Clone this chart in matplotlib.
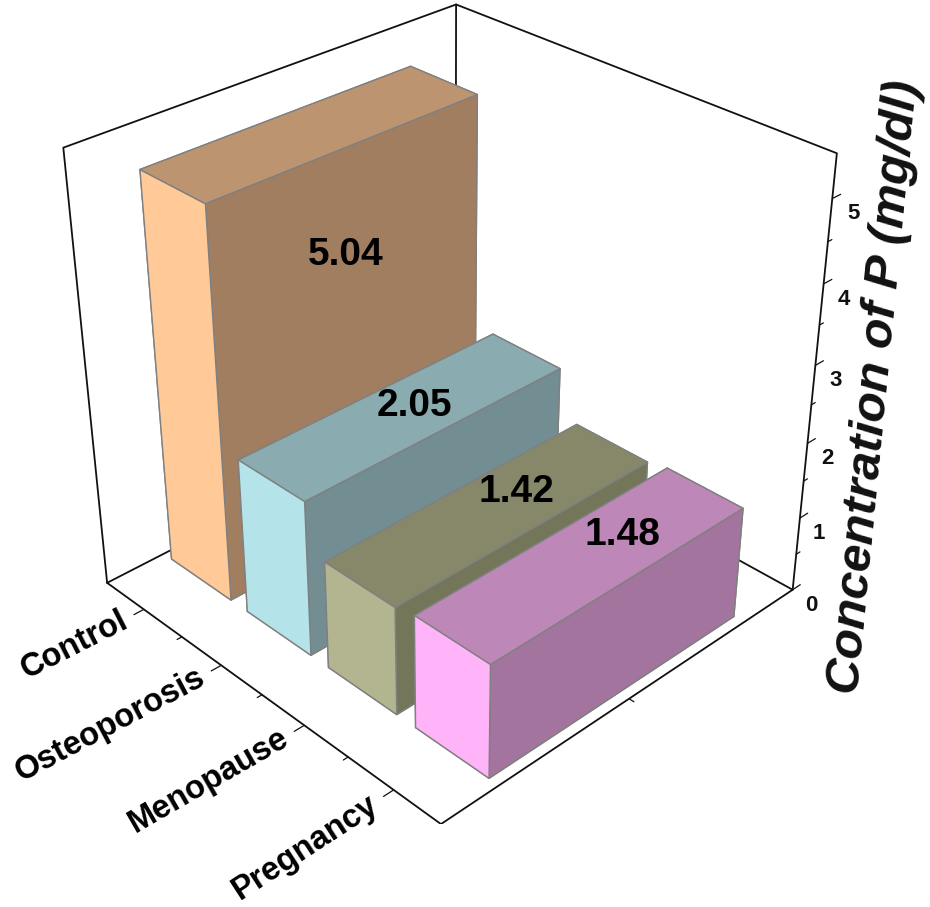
import numpy as np
import matplotlib
matplotlib.use("Agg")
import matplotlib.pyplot as plt
from mpl_toolkits.mplot3d import proj3d

plt.rcParams["font.family"] = ["Liberation Sans", "DejaVu Sans"]

categories = ["Control", "Osteoporosis", "Menopause", "Pregnancy"]
values = [5.04, 2.05, 1.42, 1.48]
y_pos = [3, 2, 1, 0]
value_text = ["5.04", "2.05", "1.42", "1.48"]
z_ticks = [0, 1, 2, 3, 4, 5]

# side, top and front shades of every bar
side_colors = ["#FFC998", "#B4E4EA", "#B2B58F", "#FFB3F8"]
top_colors = ["#BC9570", "#8AABB0", "#87886A", "#BD87B7"]
front_colors = ["#A17E60", "#728E93", "#747659", "#A2749E"]

W, H = 930, 907
X_MIN, X_MAX = 0.0, 1.0
Y_MIN, Y_MAX = -0.5, 3.5
Z_MAX = 5.513
BAR_X, BAR_DX, BAR_DY = 0.147, 0.697, 0.79

fig = plt.figure(figsize=(W / 100, H / 100), dpi=100, facecolor="white")
ax = fig.add_subplot(projection="3d", computed_zorder=False)
ax.set_axis_off()


def line3(xs, ys, zs, lw=1.3, zorder=1):
    ax.plot(xs, ys, zs, color="#111111", linewidth=lw, zorder=zorder, solid_capstyle="round")


# cube outline behind the bars
line3([X_MIN, X_MIN, X_MAX, X_MAX], [Y_MAX, Y_MIN, Y_MIN, Y_MAX], [0, 0, 0, 0])
line3([X_MIN, X_MAX], [Y_MAX, Y_MAX], [0, 0])
line3([X_MIN, X_MIN, X_MAX, X_MAX, X_MAX], [Y_MAX, Y_MAX, Y_MAX, Y_MIN, Y_MIN], [0, Z_MAX, Z_MAX, Z_MAX, 0])
line3([X_MAX, X_MAX], [Y_MAX, Y_MAX], [0, Z_MAX])

# z axis ticks on the right upright
for z in np.arange(0, 5.5, 0.5):
    major = z == int(z)
    line3([X_MAX, X_MAX + (0.025 if major else 0.012)], [Y_MIN, Y_MIN], [z, z], lw=0.9)

# category ticks along the left floor edge
for y in np.arange(0, 3.5, 0.5):
    major = y == int(y)
    line3([X_MIN, X_MIN - (0.025 if major else 0.012)], [y, y], [0, 0], lw=0.9)
line3([0.5, 0.5], [Y_MIN, Y_MIN - 0.05], [0, 0], lw=0.9)

# back bars first so the nearer ones cover them
for i, (y, v) in enumerate(zip(y_pos, values)):
    faces = ["#000000", top_colors[i], front_colors[i], front_colors[i], side_colors[i], front_colors[i]]
    ax.bar3d(BAR_X, y - BAR_DY / 2, 0, BAR_DX, BAR_DY, v, color=faces, shade=False, edgecolor="#808080",
             linewidth=1.0, zorder=2 + i)

ax.view_init(elev=31.533, azim=-133.928)
ax.set_proj_type("persp", focal_length=0.474)
ax.set_xlim(X_MIN, X_MAX, view_margin=0)
ax.set_ylim(Y_MIN, Y_MAX, view_margin=0)
ax.set_zlim(0, Z_MAX, view_margin=0)
ax.set_box_aspect((1.011, 1.007, 1))
side = 861.778
cx, cy = 437.481, 393.16
ax.set_position([(cx - side / 2) / W, (H - cy - side / 2) / H, side / W, side / H])
ax.apply_aspect()
proj = ax.get_proj()


def flat(x, y, z):
    px, py, _ = proj3d.proj_transform(np.array([x], float), np.array([y], float), np.array([z], float), proj)
    return px[0], py[0]


for z in z_ticks:
    px, py = flat(X_MAX, Y_MIN - 0.2, z - 0.07)
    ax.text2D(px, py, str(z), transform=ax.transData, fontsize=16, fontweight="bold", ha="center", va="center",
              color="#111111")

label_angle = [27, 28, 30, 33]
for name, y, angle in zip(categories, y_pos, label_angle):
    px, py = flat(X_MIN - 0.045, y, 0)
    ax.text2D(px, py, name, transform=ax.transData, fontsize=23.5, fontweight="bold", rotation=angle,
              rotation_mode="anchor", ha="right", va="center", color="black")

# value captions and the axis title sit on top of the drawing
label_xy = [(346, 255), (414, 406), (516, 492), (622, 535)]
for txt, (px, py) in zip(value_text, label_xy):
    fig.text(px / W, 1 - py / H, txt, fontsize=28, fontweight="bold", ha="center", va="center", color="black")

fig.text(875 / W, 1 - 387 / H, "Concentration of P (mg/dl)", fontsize=35.5, fontweight="bold", fontstyle="italic",
         rotation=84.5, rotation_mode="anchor", ha="center", va="center", color="#111111")

fig.savefig("out.png", dpi=100)
